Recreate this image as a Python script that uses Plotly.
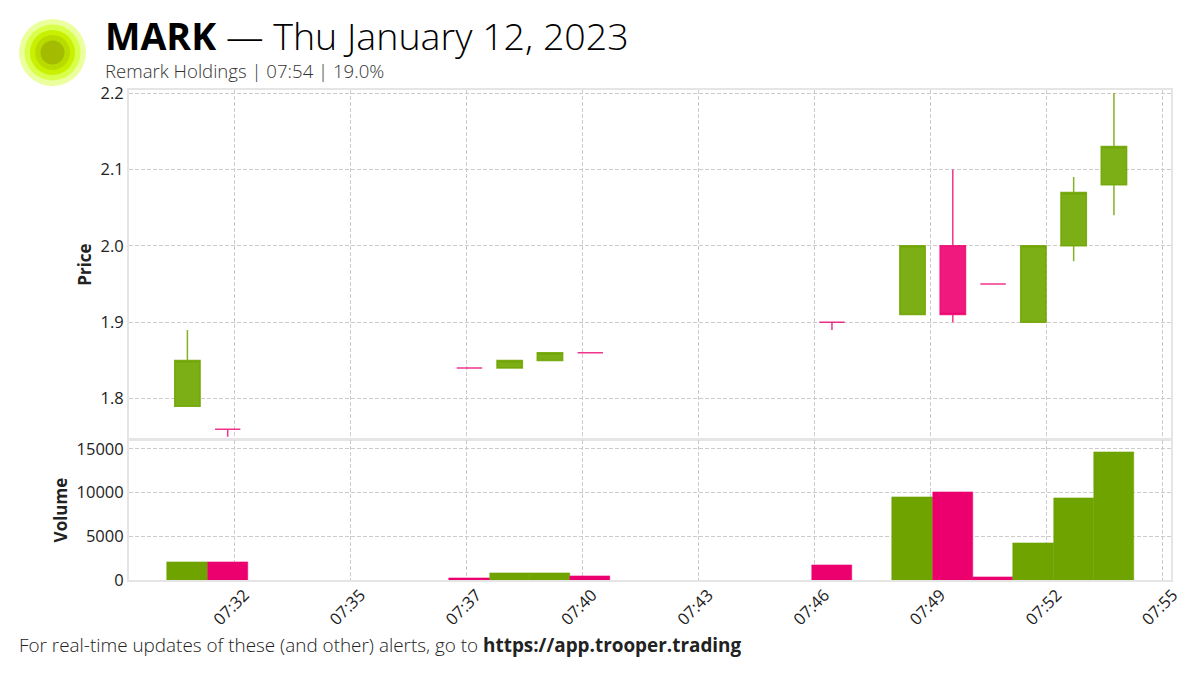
import plotly.graph_objects as go
from plotly.subplots import make_subplots

day = "2023-01-12 "
minutes = ["07:31", "07:32", "07:38", "07:39", "07:40", "07:41", "07:47",
           "07:49", "07:50", "07:51", "07:52", "07:53", "07:54"]
opens = [1.79, 1.76, 1.84, 1.84, 1.85, 1.86, 1.90, 1.91, 2.00, 1.95, 1.90, 2.00, 2.08]
highs = [1.89, 1.76, 1.84, 1.85, 1.86, 1.86, 1.90, 2.00, 2.10, 1.95, 2.00, 2.09, 2.20]
lows = [1.79, 1.75, 1.84, 1.84, 1.85, 1.86, 1.89, 1.91, 1.90, 1.95, 1.90, 1.98, 2.04]
closes = [1.85, 1.76, 1.84, 1.85, 1.86, 1.86, 1.90, 2.00, 1.91, 1.95, 2.00, 2.07, 2.13]
volumes = [2100, 2000, 200, 800, 800, 400, 1700, 9500, 10000, 300, 4200, 9400, 14600]

tick_times = ["07:32:10", "07:35:03", "07:37:56", "07:40:48", "07:43:41",
              "07:46:34", "07:49:27", "07:52:20", "07:55:13"]
tick_labels = ["07:32", "07:35", "07:37", "07:40", "07:43", "07:46", "07:49", "07:52", "07:55"]

GREEN = "#6fa300"
GREEN_WICK = "rgba(111,163,0,0.85)"
GREEN_FILL = "#7cae16"
PINK = "#ec006e"
PINK_WICK = "rgba(236,0,110,0.8)"
PINK_FILL = "#f01a7e"
times = [day + m for m in minutes]
W, H = 1200, 675
L, R, T, B = 129, 29, 90, 95


def px_x(x):
    return (x - L) / (W - L - R)


def px_y(y):
    return 1 - (y - T) / (H - T - B)


fig = make_subplots(rows=2, cols=1, shared_xaxes=True, vertical_spacing=0.002,
                    row_heights=[0.714, 0.286])

# flat candles are drawn pink, so rising and the rest go in separate traces
is_up = [c > o for o, c in zip(opens, closes)]
for want_up, line_c, fill_c in [(True, GREEN_WICK, GREEN_FILL), (False, PINK_WICK, PINK_FILL)]:
    idx = [i for i, u in enumerate(is_up) if u == want_up]
    style = dict(line=dict(color=line_c, width=1.5), fillcolor=fill_c)
    fig.add_trace(go.Candlestick(
        x=[times[i] for i in idx],
        open=[opens[i] for i in idx], high=[highs[i] for i in idx],
        low=[lows[i] for i in idx], close=[closes[i] for i in idx],
        increasing=style, decreasing=style, whiskerwidth=0, showlegend=False,
    ), row=1, col=1)

bar_colors = [GREEN if u else PINK for u in is_up]
fig.add_trace(go.Bar(
    x=times, y=volumes, width=60000,
    marker=dict(color=bar_colors, line=dict(width=0.5, color=bar_colors)),
    showlegend=False,
), row=2, col=1)

grid = dict(showgrid=True, gridcolor="#cccccc", griddash="4px,2px", gridwidth=1, zeroline=False,
            showline=True, linecolor="#e5e5e5", linewidth=2, mirror=True,
            tickfont=dict(size=16.5, color="#222"), ticks="")

fig.update_xaxes(**grid, type="date", range=[day + "07:29:33", day + "07:55:25"],
                 tickmode="array", tickvals=[day + t for t in tick_times], ticktext=tick_labels,
                 tickangle=-45, ticklabelshift=10, ticklabelstandoff=-3, rangeslider_visible=False)
fig.update_xaxes(showticklabels=False, row=1, col=1)
fig.update_yaxes(**grid)
fig.update_yaxes(range=[1.747, 2.204], tickvals=[1.8, 1.9, 2.0, 2.1, 2.2], ticktext=["1.8", "1.9", "2.0", "2.1", "2.2"],
                 title=dict(text="<b>Price</b>", font=dict(size=17, color="#222"), standoff=5), row=1, col=1)
fig.update_yaxes(range=[0, 16000], tickvals=[0, 5000, 10000, 15000], ticktext=["0", "5000", "10000", "15000"],
                 title=dict(text="<b>Volume</b>", font=dict(size=17, color="#222"), standoff=5), row=2, col=1)

# logo rings, outermost first
rings = [(33.5, "#ecff9e"), (28, "#d9ff4a"), (22.5, "#c8f000"), (17.5, "#b9dc00"), (12, "#a3bb00")]
for r, c in rings:
    fig.add_shape(type="circle", xref="paper", yref="paper", layer="above", line_width=0, fillcolor=c,
                  x0=px_x(52.5 - r), x1=px_x(52.5 + r), y0=px_y(52.5 + r), y1=px_y(52.5 - r))

notes = [
    (103, 35.5, "<b>MARK</b> — Thu January 12, 2023", 37.6, "#000"),
    (103, 71, "Remark Holdings | 07:54 | 19.0%", 18.6, "#333"),
    (17, 645, "For real-time updates of these (and other) alerts, go to <b>https://app.trooper.trading</b>", 18.9, "#222"),
]
for x, y, text, size, color in notes:
    fig.add_annotation(text=text, xref="paper", yref="paper", x=px_x(x), y=px_y(y), xanchor="left",
                       yanchor="middle", showarrow=False, font=dict(size=size, color=color, weight=300))

fig.update_layout(width=W, height=H, margin=dict(l=L, r=R, t=T, b=B), plot_bgcolor="white", paper_bgcolor="white",
                  font=dict(family="Open Sans"), boxgap=0.1, boxmode="overlay", bargap=0, showlegend=False)

fig.write_html("out.html", config=dict(displayModeBar=False), post_script="document.body.style.margin='0';")
